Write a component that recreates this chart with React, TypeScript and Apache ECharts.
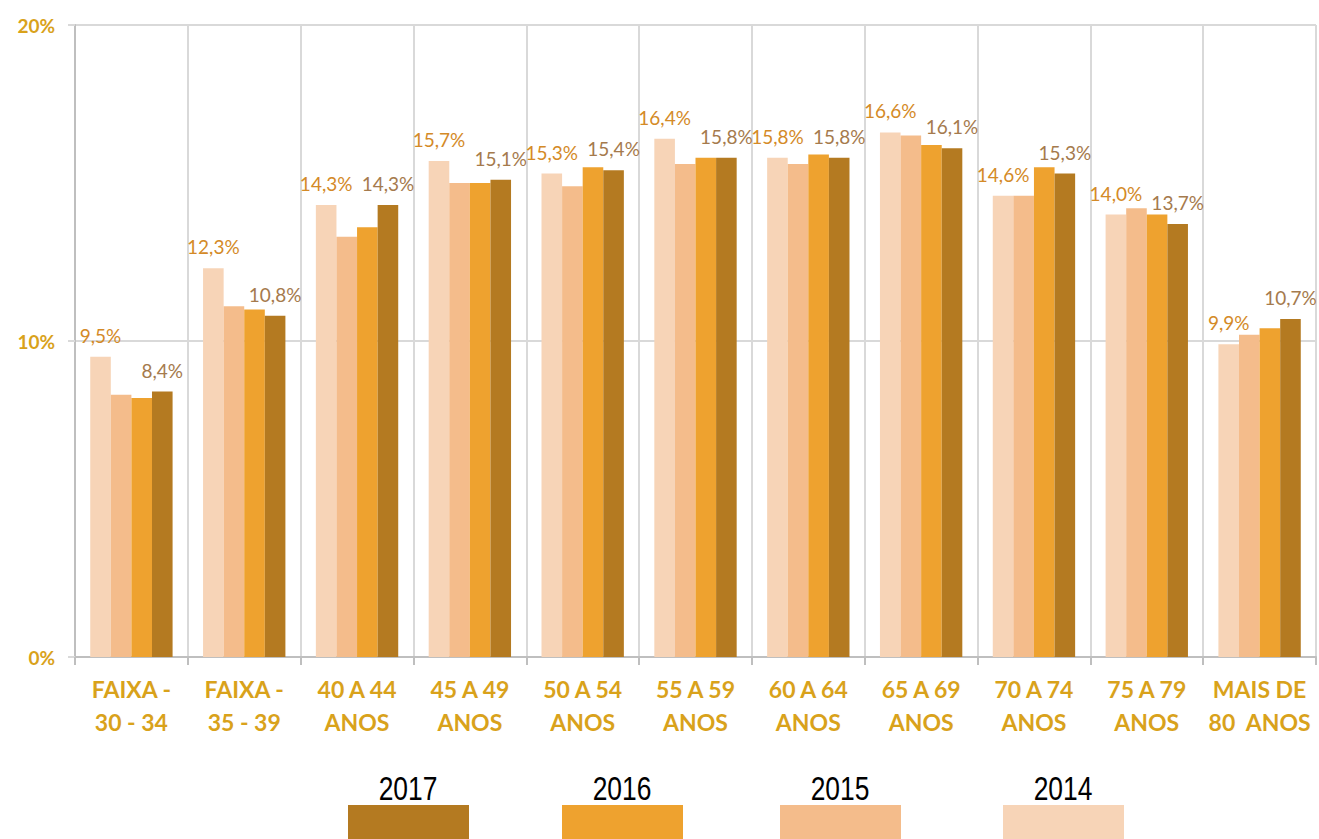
import React, { useEffect, useRef } from "react";
import * as echarts from "echarts";

const categories = [
  "FAIXA -\n30 - 34",
  "FAIXA -\n35 - 39",
  "40 A 44\nANOS",
  "45 A 49\nANOS",
  "50 A 54\nANOS",
  "55 A 59\nANOS",
  "60 A 64\nANOS",
  "65 A 69\nANOS",
  "70 A 74\nANOS",
  "75 A 79\nANOS",
  "MAIS DE\n80  ANOS",
];

const values2014 = [9.5, 12.3, 14.3, 15.7, 15.3, 16.4, 15.8, 16.6, 14.6, 14.0, 9.9];
const values2015 = [8.3, 11.1, 13.3, 15.0, 14.9, 15.6, 15.6, 16.5, 14.6, 14.2, 10.2];
const values2016 = [8.2, 11.0, 13.6, 15.0, 15.5, 15.8, 15.9, 16.2, 15.5, 14.0, 10.4];
const values2017 = [8.4, 10.8, 14.3, 15.1, 15.4, 15.8, 15.8, 16.1, 15.3, 13.7, 10.7];

const yTicks = [0, 10, 20];

const seriesNames = ["2014", "2015", "2016", "2017"];
const seriesColors = ["#F7D4B7", "#F4BC8B", "#EEA22F", "#B47A21"];
const seriesValues = [values2014, values2015, values2016, values2017];
const labelled = [true, false, false, true];
const labelColors = ["#D48A27", "", "", "#A57A4D"];

const legendOrder = ["2017", "2016", "2015", "2014"];
const legendX = [348, 562, 780, 1003];

const gold = "#D9A21B";
const fmt = (v: number) => v.toFixed(1).replace(".", ",") + "%";

export default function App() {
  const ref = useRef<HTMLDivElement>(null);
  useEffect(() => {
    if (!ref.current) return;
    const chart = echarts.init(ref.current, null, { renderer: "svg" });
    const legendGraphics: any[] = [];
    legendOrder.forEach((name, i) => {
      const idx = seriesNames.indexOf(name);
      legendGraphics.push({
        type: "rect",
        shape: { x: legendX[i], y: 805, width: 121, height: 40 },
        style: { fill: seriesColors[idx] },
      });
      legendGraphics.push({
        type: "text",
        x: legendX[i] + 60,
        y: 805,
        scaleX: 0.8,
        style: {
          text: name,
          fill: "#000",
          font: "33px 'Liberation Sans Narrow', 'Arial Narrow', 'Liberation Sans', Arial, sans-serif",
          textAlign: "center",
          textVerticalAlign: "bottom",
        },
      });
    });
    chart.setOption({
      animation: false,
      backgroundColor: "#fff",
      grid: { left: 75, right: 3, top: 25, bottom: 182, containLabel: false },
      xAxis: {
        type: "category",
        data: categories,
        axisLine: { show: true, lineStyle: { color: "#BFBFBF", width: 2 } },
        axisTick: { show: true, length: 8, lineStyle: { color: "#BFBFBF", width: 2 } },
        splitLine: { show: true, lineStyle: { color: "#D9D9D9", width: 2 } },
        axisLabel: {
          color: gold,
          fontFamily: "Lato",
          fontWeight: "bold",
          fontSize: 23,
          lineHeight: 33,
          margin: 15,
          interval: 0,
        },
      },
      yAxis: {
        type: "value",
        min: yTicks[0],
        max: yTicks[yTicks.length - 1],
        interval: 10,
        axisLine: { show: true, lineStyle: { color: "#BFBFBF", width: 2 } },
        axisTick: { show: true, length: 7, lineStyle: { color: "#D9D9D9", width: 2 } },
        splitLine: { show: true, lineStyle: { color: "#D9D9D9", width: 2 } },
        axisLabel: {
          formatter: "{value}%",
          color: gold,
          fontFamily: "Lato",
          fontWeight: "bold",
          fontSize: 19,
          margin: 20,
        },
      },
      series: seriesNames.map((name, i) => ({
        name,
        type: "bar",
        data: seriesValues[i],
        barGap: "0%",
        barCategoryGap: "27%",
        itemStyle: { color: seriesColors[i] },
        label: labelled[i]
          ? {
              show: true,
              position: "top",
              distance: 12,
              formatter: (p: any) => fmt(p.value),
              color: labelColors[i],
              fontFamily: "Lato",
              fontSize: 19,
            }
          : { show: false },
      })),
      graphic: legendGraphics,
    });
    return () => chart.dispose();
  }, []);
  return <div ref={ref} style={{ width: 1319, height: 839, position: "absolute", left: 0, top: 0 }} />;
}
